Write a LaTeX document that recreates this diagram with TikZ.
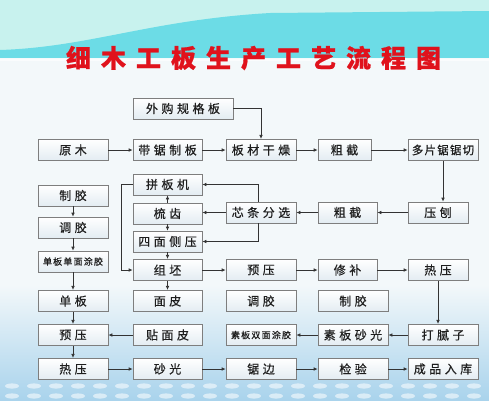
\documentclass[tikz,border=0pt]{standalone}
\usepackage{fontspec}
\usetikzlibrary{arrows.meta,calc}
\newfontfamily\cjk[FakeBold=0.5]{Noto Sans CJK SC}
\newfontfamily\cjktitle[FakeBold=0.8]{Noto Sans CJK SC}
\newlength\cjkgap
\def\spc#1{\spcfirst#1\relax}
\def\spcfirst#1{#1\spcrest}
\def\spcrest#1{\ifx#1\relax\else\kern\cjkgap#1\expandafter\spcrest\fi}
\definecolor{linec}{HTML}{333333}
\definecolor{boxgray}{HTML}{7E7E7E}
\definecolor{boxfill}{HTML}{E3ECF2}
\definecolor{textc}{HTML}{1E1E1E}
\definecolor{palecyan}{HTML}{C8F2EE}
\definecolor{cyanband}{HTML}{6CDCE6}
\definecolor{bgpale}{HTML}{F3F8FA}
\definecolor{bgblue}{HTML}{A9D3EC}
\definecolor{titlered}{HTML}{E0121C}
\tikzset{
  box/.style={draw=boxgray, line width=0.7pt, top color=white, bottom color=boxfill,
    inner sep=0pt, minimum height=21.5pt, text=textc,
    font=\cjk\fontsize{12}{12}\selectfont\setlength\cjkgap{3.5pt}},
  small/.style={font=\cjk\fontsize{9}{9}\selectfont\setlength\cjkgap{1.2pt}},
  tight/.style={font=\cjk\fontsize{11.5}{12}\selectfont\setlength\cjkgap{1.2pt}},
  arr/.style={-{Latex[length=4pt,width=3.6pt]}, draw=linec, line width=0.7pt},
}
\begin{document}
\begin{tikzpicture}[x=1pt,y=-1pt]
\useasboundingbox (0,0) rectangle (489,400);
% background
\fill[bgpale] (0,0) rectangle (489,400);
\fill[palecyan] (0,0) rectangle (489,58);
\fill[cyanband] (0,58) -- (0,50) .. controls (90,47) and (150,20) .. (270,13) -- (489,11) -- (489,58) -- cycle;
\fill[white,opacity=0.6] (0,58) rectangle (489,61);
\shade[top color=bgpale, bottom color=bgblue] (0,285) rectangle (489,400);
\foreach \yy in {386,396}{
  \foreach \xx in {12,34,...,489}{
    \fill[white,opacity=0.55] (\xx,\yy) ellipse (7 and 2.6);
  }
}
% title
\node[text=titlered, font=\cjktitle\bfseries\fontsize{25}{25}\selectfont\setlength\cjkgap{10pt}] (title) at (253.5,58) {\spc{细木工板生产工艺流程图}};
% row 0
\node[box, minimum width=100pt, minimum height=21pt] (wg) at (183,108.5) {\spc{外购规格板}};
% row 1
\node[box, minimum width=70pt] (ym) at (73,150) {\spc{原木}};
\node[box, minimum width=69pt] (dj) at (167.5,150) {\spc{带锯制板}};
\node[box, minimum width=70pt] (bc) at (261,150) {\spc{板材干燥}};
\node[box, minimum width=53pt] (cj1) at (344.5,150) {\spc{粗截}};
\node[box, tight, minimum width=70pt] (dp) at (443,150) {\spc{多片锯锯切}};
% left column
\node[box, minimum width=70pt, minimum height=21pt] (zj1) at (73,195.5) {\spc{制胶}};
\node[box, minimum width=70pt, minimum height=21pt] (tj1) at (73,227.5) {\spc{调胶}};
\node[box, small, minimum width=70pt, minimum height=21pt] (dm) at (73,261.5) {\spc{单板单面涂胶}};
\node[box, minimum width=70pt] (db) at (73,301) {\spc{单板}};
\node[box, minimum width=70pt] (yy1) at (73,335) {\spc{预压}};
\node[box, minimum width=70pt] (ry1) at (73,369) {\spc{热压}};
% middle column
\node[box, minimum width=69pt, minimum height=21pt] (pb) at (167.5,184.5) {\spc{拼板机}};
\node[box, minimum width=69pt, minimum height=21pt] (sc) at (167.5,213.5) {\spc{梳齿}};
\node[box, minimum width=69pt, minimum height=21pt] (sm) at (167.5,241.5) {\spc{四面侧压}};
\node[box, minimum width=69pt] (zp) at (167.5,270) {\spc{组坯}};
\node[box, minimum width=69pt] (mp) at (167.5,301) {\spc{面皮}};
\node[box, minimum width=69pt] (tm) at (167.5,335) {\spc{贴面皮}};
\node[box, minimum width=69pt] (sg) at (167.5,369) {\spc{砂光}};
% column 3
\node[box, minimum width=70pt, minimum height=21pt] (xt) at (261,212.5) {\spc{芯条分选}};
\node[box, minimum width=70pt] (yy2) at (261,270) {\spc{预压}};
\node[box, minimum width=70pt] (tj2) at (261,301) {\spc{调胶}};
\node[box, small, minimum width=70pt] (sb) at (261,335) {\spc{素板双面涂胶}};
\node[box, minimum width=70pt] (jb) at (261,369) {\spc{锯边}};
% column 4
\node[box, minimum width=59pt, minimum height=21pt] (cj2) at (347.5,212.5) {\spc{粗截}};
\node[box, minimum width=59pt] (xb) at (347.5,270) {\spc{修补}};
\node[box, minimum width=70pt] (zj2) at (353,301) {\spc{制胶}};
\node[box, minimum width=70pt] (ss) at (353,335) {\spc{素板砂光}};
\node[box, minimum width=70pt] (jy) at (353,369) {\spc{检验}};
% column 5
\node[box, minimum width=60pt, minimum height=21pt] (yb) at (438,212.5) {\spc{压刨}};
\node[box, minimum width=60pt] (ry2) at (438,270) {\spc{热压}};
\node[box, minimum width=70pt] (dn) at (443,335) {\spc{打腻子}};
\node[box, minimum width=70pt] (cp) at (443,369) {\spc{成品入库}};
% connectors
\draw[arr] (wg.east) -| (bc.north);
\draw[arr] (ym) -- (dj);
\draw[arr] (dj) -- (bc);
\draw[arr] (bc) -- (cj1);
\draw[arr] (cj1) -- (dp);
\draw[arr] (dp.south) -- (dp.south |- yb.north);
\draw[arr] (yb) -- (cj2);
\draw[arr] (cj2) -- (xt);
\draw[arr] (xt.west) -- (xt.west -| sc.east);
\draw[arr] ([xshift=-3pt]xt.north) |- (pb.east);
\draw[arr] ([xshift=-3pt]xt.south) |- (sm.east);
\draw[arr] (sc) -- (pb);
\draw[arr] (sc) -- (sm);
\draw[arr] (sm) -- (zp);
\draw[arr] (pb.west) -- ++(-11pt,0) |- (zp.west);
\draw[arr] (zp) -- (mp);
\draw[arr] (zp) -- (yy2);
\draw[arr] (yy2) -- (xb);
\draw[arr] (xb) -- (ry2);
\draw[arr] (ry2.south) -- (ry2.south |- dn.north);
\draw[arr] (dn) -- (ss);
\draw[arr] (ss) -- (sb);
\draw[arr] (tm) -- (yy1);
\draw[arr] (zj1) -- (tj1);
\draw[arr] (tj1) -- (dm);
\draw[arr] (dm) -- (db);
\draw[arr] (db) -- (yy1);
\draw[arr] (yy1) -- (ry1);
\draw[arr] (ry1) -- (sg);
\draw[arr] (sg) -- (jb);
\draw[arr] (jb) -- (jy);
\draw[arr] (jy) -- (cp);
\end{tikzpicture}
\end{document}
